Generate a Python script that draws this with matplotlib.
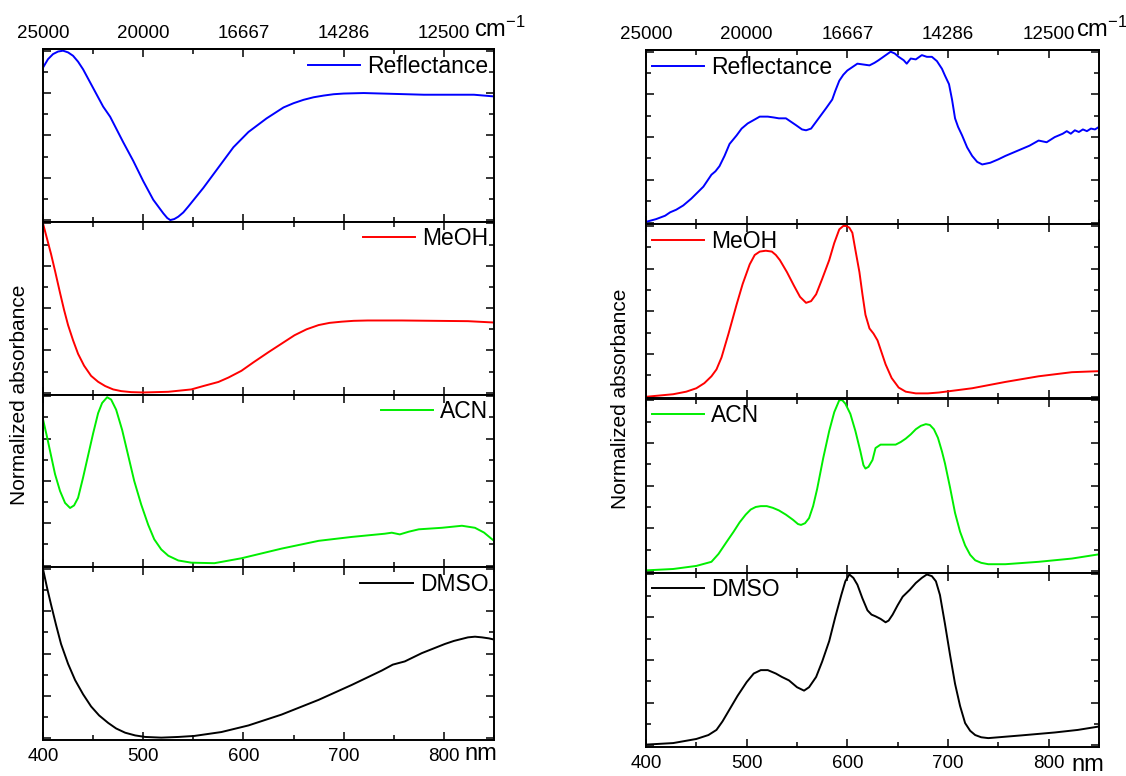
import numpy as np
import matplotlib
matplotlib.use('Agg')
import matplotlib.pyplot as plt
from matplotlib.ticker import MultipleLocator

plt.rcParams['font.family'] = ['Liberation Sans', 'DejaVu Sans']

# ---- data ----
# left column (sample A)
refl_a_nm = [400, 405, 410, 415, 420, 425, 430, 435, 440, 450, 460, 467, 480, 490, 500, 510,
             515, 520, 524, 527, 531, 535, 540, 545, 560, 575, 590, 605, 623, 640, 650, 660,
             670, 680, 690, 700, 720, 750, 780, 800, 830, 850]
refl_a = [0.90, 0.95, 0.98, 0.995, 1.0, 0.99, 0.97, 0.935, 0.89, 0.78, 0.67, 0.61, 0.46, 0.35,
          0.23, 0.12, 0.08, 0.04, 0.012, 0.0, 0.006, 0.02, 0.045, 0.08, 0.19, 0.31, 0.43, 0.52,
          0.60, 0.665, 0.69, 0.71, 0.725, 0.735, 0.743, 0.747, 0.75, 0.745, 0.74, 0.74, 0.74, 0.73]

meoh_a_nm = [400, 404, 408, 412, 417, 421, 425, 430, 435, 441, 448, 455, 462, 470, 478, 488,
             500, 525, 548, 560, 575, 585, 598, 610, 625, 638, 651, 663, 675, 686, 698, 710,
             724, 758, 791, 824, 850]
meoh_a = [1.0, 0.91, 0.82, 0.72, 0.59, 0.49, 0.40, 0.31, 0.23, 0.16, 0.10, 0.065, 0.04, 0.02,
          0.01, 0.004, 0.002, 0.006, 0.02, 0.04, 0.064, 0.09, 0.13, 0.18, 0.24, 0.29, 0.34,
          0.375, 0.40, 0.413, 0.42, 0.425, 0.427, 0.427, 0.425, 0.423, 0.415]

acn_a_nm = [400, 404, 408, 412, 417, 422, 427, 431, 435, 440, 445, 450, 455, 459, 464, 468,
            473, 479, 485, 491, 498, 505, 511, 518, 525, 535, 548, 571, 598, 638, 675, 708,
            741, 748, 756, 765, 775, 798, 818, 831, 840, 850]
acn_a = [0.864, 0.76, 0.65, 0.54, 0.44, 0.37, 0.34, 0.355, 0.40, 0.52, 0.65, 0.78, 0.90, 0.96,
         0.994, 0.98, 0.92, 0.80, 0.65, 0.50, 0.36, 0.24, 0.155, 0.095, 0.058, 0.03, 0.017,
         0.014, 0.043, 0.10, 0.146, 0.169, 0.188, 0.194, 0.184, 0.20, 0.214, 0.223, 0.235,
         0.223, 0.195, 0.146]

dmso_a_nm = [400, 404, 408, 413, 418, 425, 432, 440, 448, 456, 465, 473, 482, 492, 502, 518,
             535, 551, 578, 605, 638, 675, 708, 738, 749, 761, 778, 801, 810, 824, 831, 838,
             845, 850]
dmso_a = [1.0, 0.89, 0.79, 0.67, 0.557, 0.44, 0.344, 0.26, 0.188, 0.135, 0.091, 0.058, 0.033,
          0.017, 0.008, 0.004, 0.008, 0.014, 0.037, 0.076, 0.14, 0.227, 0.315, 0.40, 0.435,
          0.454, 0.503, 0.557, 0.575, 0.596, 0.60, 0.596, 0.59, 0.583]

# right column (sample B)
refl_b_nm = [400, 410, 419, 424, 430, 437, 445, 451, 457, 465, 469, 473, 478, 483, 490, 495,
             501, 507, 513, 521, 527, 532, 539, 544, 549, 555, 559, 564, 569, 574, 579, 585,
             588, 592, 596, 600, 605, 610, 616, 622, 627, 631, 637, 643, 647, 651, 656, 659,
             663, 668, 674, 679, 684, 689, 694, 697, 701, 704, 707, 710, 714, 719, 724, 729,
             734, 738, 742, 750, 757, 765, 773, 781, 790, 798, 806, 810, 814, 818, 822, 826,
             830, 834, 838, 842, 846, 850]
refl_b = [0.004, 0.02, 0.04, 0.06, 0.075, 0.10, 0.14, 0.175, 0.21, 0.28, 0.30, 0.33, 0.39,
          0.46, 0.51, 0.55, 0.58, 0.60, 0.62, 0.62, 0.615, 0.61, 0.61, 0.59, 0.57, 0.545, 0.54,
          0.55, 0.59, 0.63, 0.67, 0.72, 0.77, 0.83, 0.865, 0.89, 0.91, 0.93, 0.925, 0.92, 0.935,
          0.95, 0.975, 1.0, 0.99, 0.97, 0.95, 0.93, 0.96, 0.955, 0.98, 0.97, 0.97, 0.945, 0.90,
          0.86, 0.81, 0.72, 0.61, 0.56, 0.51, 0.44, 0.39, 0.355, 0.34, 0.345, 0.35, 0.37, 0.39,
          0.41, 0.43, 0.45, 0.48, 0.47, 0.50, 0.51, 0.52, 0.535, 0.52, 0.54, 0.53, 0.545, 0.535,
          0.55, 0.545, 0.56]

meoh_b_nm = [400, 427, 440, 450, 458, 465, 470, 475, 482, 490, 496, 503, 508, 513, 519, 525,
             529, 533, 540, 547, 553, 559, 564, 569, 575, 582, 587, 592, 596, 599, 602, 605,
             608, 612, 615, 618, 622, 626, 630, 634, 638, 644, 651, 658, 668, 680, 691, 724,
             757, 790, 823, 850]
meoh_b = [0.0, 0.015, 0.03, 0.05, 0.08, 0.12, 0.16, 0.23, 0.37, 0.54, 0.66, 0.775, 0.83, 0.85,
          0.855, 0.85, 0.83, 0.80, 0.73, 0.65, 0.585, 0.55, 0.56, 0.60, 0.69, 0.80, 0.90, 0.98,
          1.0, 1.0, 0.99, 0.96, 0.86, 0.73, 0.60, 0.48, 0.40, 0.37, 0.33, 0.26, 0.19, 0.11,
          0.054, 0.03, 0.02, 0.02, 0.025, 0.05, 0.087, 0.12, 0.144, 0.15]

acn_b_nm = [400, 427, 450, 465, 472, 480, 487, 493, 499, 504, 509, 514, 520, 526, 532, 539,
            546, 551, 554, 558, 562, 566, 570, 576, 582, 587, 592, 595, 598, 603, 608, 613,
            616, 618, 621, 625, 628, 633, 640, 648, 653, 658, 663, 668, 673, 678, 682, 686,
            690, 694, 697, 702, 707, 712, 717, 722, 727, 733, 740, 757, 790, 823, 850]
acn_b = [0.004, 0.012, 0.03, 0.054, 0.10, 0.17, 0.23, 0.285, 0.33, 0.36, 0.375, 0.38, 0.38,
         0.37, 0.355, 0.33, 0.30, 0.275, 0.27, 0.28, 0.31, 0.38, 0.48, 0.66, 0.82, 0.93, 1.0,
         1.0, 0.98, 0.92, 0.82, 0.70, 0.62, 0.60, 0.61, 0.65, 0.72, 0.74, 0.74, 0.74, 0.755,
         0.775, 0.80, 0.83, 0.85, 0.86, 0.855, 0.83, 0.78, 0.70, 0.63, 0.49, 0.34, 0.23, 0.15,
         0.095, 0.063, 0.048, 0.04, 0.04, 0.054, 0.073, 0.098]

dmso_b_nm = [400, 427, 450, 462, 470, 476, 483, 491, 500, 507, 514, 521, 529, 535, 542, 550,
             557, 562, 569, 575, 582, 588, 594, 598, 602, 606, 610, 615, 620, 624, 628, 633,
             638, 641, 645, 650, 655, 662, 668, 674, 679, 684, 688, 692, 697, 702, 707, 712,
             717, 722, 727, 733, 740, 773, 806, 829, 850]
dmso_b = [0.004, 0.013, 0.037, 0.06, 0.09, 0.14, 0.21, 0.29, 0.37, 0.42, 0.44, 0.44, 0.42,
          0.40, 0.38, 0.34, 0.32, 0.34, 0.40, 0.49, 0.61, 0.75, 0.88, 0.96, 1.0, 0.98, 0.94,
          0.86, 0.79, 0.765, 0.755, 0.74, 0.72, 0.73, 0.765, 0.82, 0.87, 0.91, 0.95, 0.98, 1.0,
          0.99, 0.96, 0.88, 0.71, 0.53, 0.36, 0.23, 0.13, 0.085, 0.06, 0.047, 0.042, 0.058,
          0.075, 0.09, 0.11]

nm_ticks = [400, 500, 600, 700, 800]
wavenumber_labels = ['25000', '20000', '16667', '14286', '12500']

columns = [
    dict(left=43, width=451, top=49, bottom=740, loc='upper right',
         series=[(refl_a_nm, refl_a, 'Reflectance', '#0000ff'),
                 (meoh_a_nm, meoh_a, 'MeOH', '#ff0000'),
                 (acn_a_nm, acn_a, 'ACN', '#00ee00'),
                 (dmso_a_nm, dmso_a, 'DMSO', 'black')],
         ylabel_x=20, cm_x=474, nm_x=464, nm_y=754),
    dict(left=646, width=453, top=50, bottom=747, loc='upper left',
         series=[(refl_b_nm, refl_b, 'Reflectance', '#0000ff'),
                 (meoh_b_nm, meoh_b, 'MeOH', '#ff0000'),
                 (acn_b_nm, acn_b, 'ACN', '#00ee00'),
                 (dmso_b_nm, dmso_b, 'DMSO', 'black')],
         ylabel_x=621, cm_x=1076, nm_x=1071, nm_y=765),
]

W, H = 1126, 776
fig = plt.figure(figsize=(W / 100, H / 100), dpi=100)


def style_axis(ax):
    for sp in ax.spines.values():
        sp.set_linewidth(1.4)
    ax.tick_params(which='both', direction='in', top=True, right=True,
                   labelbottom=False, labelleft=False)
    ax.tick_params(which='major', length=6, width=1.1)
    ax.tick_params(which='minor', length=3.5, width=1.1)
    ax.xaxis.set_minor_locator(MultipleLocator(50))
    ax.yaxis.set_major_locator(MultipleLocator(0.25))
    ax.yaxis.set_minor_locator(MultipleLocator(0.125))


for col in columns:
    ph = (col['bottom'] - col['top']) / 4
    for i, (x, y, name, color) in enumerate(col['series']):
        top = col['top'] + i * ph
        ax = fig.add_axes([col['left'] / W, 1 - (top + ph) / H, col['width'] / W, ph / H])
        ax.plot(x, y, color=color, lw=1.4, label=name)
        ax.set_xlim(400, 850)
        ax.set_ylim(-0.01, 1.01)
        ax.set_xticks(nm_ticks)
        style_axis(ax)
        ax.legend(loc=col['loc'], frameon=False, fontsize=16.5, handlelength=2.3,
                  handletextpad=0.3, borderaxespad=0.0, borderpad=0.25)
        if i == 0:
            ax.tick_params(top=False, which='both')
            sec = ax.secondary_xaxis('top')
            sec.set_xticks(nm_ticks, labels=wavenumber_labels)
            sec.xaxis.set_minor_locator(MultipleLocator(50))
            sec.tick_params(which='both', direction='in', labelsize=13.5, pad=5)
            sec.tick_params(which='major', length=6, width=1.1)
            sec.tick_params(which='minor', length=3.5, width=1.1)
            sec.spines['top'].set_linewidth(1.4)
        if i == 3:
            ax.tick_params(labelbottom=True, labelsize=13.5, pad=6)
    fig.text(col['ylabel_x'] / W, 1 - ((col['top'] + col['bottom']) / 2) / H,
             'Normalized absorbance', rotation=90, ha='center', va='center', fontsize=15)
    fig.text(col['cm_x'] / W, 1 - 29 / H, r'$\mathregular{cm^{-1}}$',
             ha='left', va='center', fontsize=17)
    fig.text(col['nm_x'] / W, 1 - col['nm_y'] / H, 'nm', ha='left', va='center', fontsize=17)

fig.savefig('out.png', dpi=100)
